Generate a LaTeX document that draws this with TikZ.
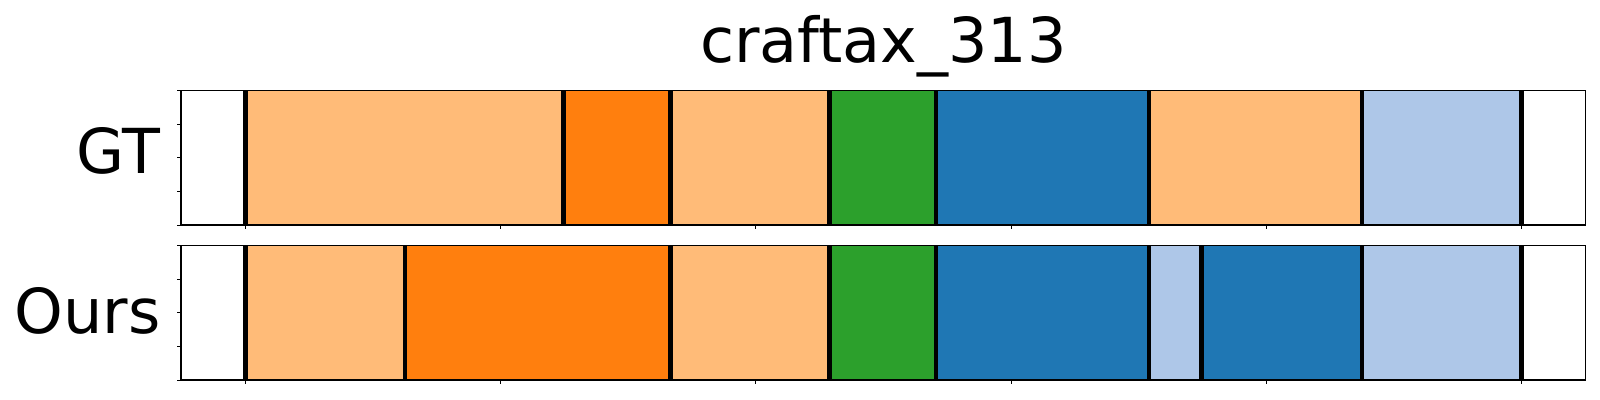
\documentclass[tikz,border=0pt]{standalone}
\usepackage{fontspec}
\setmainfont{DejaVu Sans}
\definecolor{lorange}{HTML}{FFBB78}
\definecolor{dorange}{HTML}{FF7F0E}
\definecolor{tgreen}{HTML}{2CA02C}
\definecolor{tblue}{HTML}{1F77B4}
\definecolor{lblue}{HTML}{AEC7E8}
\begin{document}
\begin{tikzpicture}[x=0.5pt,y=-0.5pt,
  frame/.style={draw=black,line width=0.6pt},
  bound/.style={draw=black,line width=2.3pt},
  tickmark/.style={draw=black,line width=0.45pt},
  lbl/.style={font=\fontsize{31}{36}\selectfont,inner sep=0pt}]
\useasboundingbox (0,0) rectangle (1600,400);
% GT segments
\fill[lorange] (245.7,90.3) rectangle (563.7,225);
\fill[dorange] (563.7,90.3) rectangle (670.7,225);
\fill[lorange] (670.7,90.3) rectangle (829.7,225);
\fill[tgreen] (829.7,90.3) rectangle (936,225);
\fill[tblue] (936,90.3) rectangle (1149,225);
\fill[lorange] (1149,90.3) rectangle (1362,225);
\fill[lblue] (1362,90.3) rectangle (1521.2,225);
\foreach \b in {245.7,563.7,670.7,829.7,936,1149,1362,1521.2}
  \draw[bound] (\b,90.3) -- (\b,225);
% Ours segments
\fill[lorange] (245.7,245.3) rectangle (405,380);
\fill[dorange] (405,245.3) rectangle (670.7,380);
\fill[lorange] (670.7,245.3) rectangle (829.7,380);
\fill[tgreen] (829.7,245.3) rectangle (936,380);
\fill[tblue] (936,245.3) rectangle (1149,380);
\fill[lblue] (1149,245.3) rectangle (1201.7,380);
\fill[tblue] (1201.7,245.3) rectangle (1362,380);
\fill[lblue] (1362,245.3) rectangle (1521.2,380);
\foreach \b in {245.7,405,670.7,829.7,936,1149,1201.7,1362,1521.2}
  \draw[bound] (\b,245.3) -- (\b,380);
% frames
\draw[frame] (181,90.3) rectangle (1585.7,225);
\draw[frame] (181,245.3) rectangle (1585.7,380);
% ticks
\foreach \t in {90.3,124.0,157.65,191.3,225}
  \draw[tickmark] (181,\t) -- (176.5,\t);
\foreach \t in {245.3,279.0,312.65,346.3,380}
  \draw[tickmark] (181,\t) -- (176.5,\t);
\foreach \t in {245.7,500.8,755.9,1011,1266.1,1521.2}{
  \draw[tickmark] (\t,225) -- (\t,229.5);
  \draw[tickmark] (\t,380) -- (\t,384.5);}
% labels
\node[lbl,anchor=base] (title) at (883.4,63) {craftax\_313};
\node[lbl,anchor=base east] (gt) at (161,174) {GT};
\node[lbl,anchor=base east] (ours) at (161,334) {Ours};
\end{tikzpicture}
\end{document}
